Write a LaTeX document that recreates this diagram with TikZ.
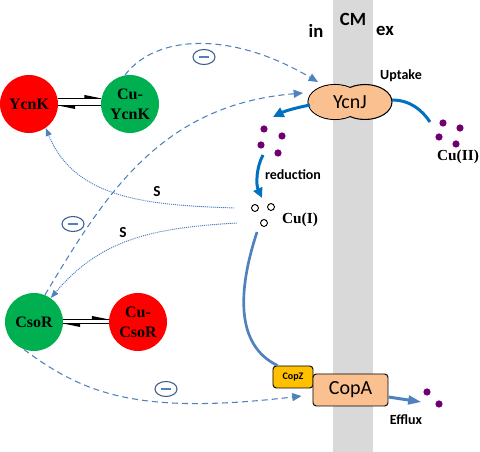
\documentclass[tikz,border=0pt]{standalone}
\usepackage{fontspec}
\setmainfont{Liberation Serif}
\newfontfamily\calfont{Carlito}
\usetikzlibrary{arrows.meta,shapes.geometric,calc}
\definecolor{memb}{HTML}{D9D9D9}
\definecolor{rred}{HTML}{FF0000}
\definecolor{ggreen}{HTML}{00B050}
\definecolor{peach}{HTML}{FAC090}
\definecolor{gold}{HTML}{FFC000}
\definecolor{sblue}{HTML}{4F81BD}
\definecolor{bblue}{HTML}{0070C0}
\definecolor{purp}{HTML}{700070}
\definecolor{minusc}{HTML}{3B5C8F}
\begin{document}
\begin{tikzpicture}[x=0.75pt,y=-0.75pt,
  prot/.style={circle,minimum size=43.5pt,inner sep=0pt,align=center,
    font=\bfseries\fontsize{12}{15}\selectfont},
  lbl/.style={font=\calfont\bfseries\fontsize{10.5}{12}\selectfont},
  big/.style={font=\calfont\bfseries\fontsize{14}{16}\selectfont},
  cutxt/.style={font=\bfseries\fontsize{11.5}{13}\selectfont},
  dashconn/.style={draw=sblue,line width=0.8pt,dash pattern=on 4.5pt off 3pt,
    -{Triangle[length=7pt,width=6pt]}},
  dotconn/.style={draw=sblue,line width=0.7pt,dash pattern=on 0.8pt off 0.7pt,
    -{Triangle[length=6pt,width=4.5pt]}},
  eqline/.style={line width=1.1pt},
  minus/.style={ellipse,draw=minusc,line width=0.8pt,minimum width=16.5pt,
    minimum height=11.25pt,inner sep=0pt},
  dot/.style={fill=purp},
  odot/.style={draw=black,line width=0.7pt,fill=white},
  boxst/.style={draw=black,line width=0.7pt,rounded corners=2.5pt,inner sep=0pt}
]
\useasboundingbox (0,0) rectangle (480,452);
% membrane
\fill[memb] (333,0) rectangle (373,452);
\node[big] (in) at (316,31) {in};
\node[big] (cm) at (353,19) {CM};
\node[big] (ex) at (385,31) {ex};

% YcnJ transporter
\draw[line width=0.8pt,fill=peach] (335,102) ellipse [x radius=20.25pt,y radius=13.125pt];
\draw[line width=0.8pt,fill=peach] (365,102) ellipse [x radius=20.25pt,y radius=13.125pt];
\fill[peach] (335,102) ellipse [x radius=19.85pt,y radius=12.725pt];
\node[minimum width=63pt,minimum height=26.25pt,inner sep=0pt,
  font=\calfont\fontsize{15}{18}\selectfont] (ycnj) at (350,102) {YcnJ};
\node[lbl] (uptake) at (401,76) {Uptake};

% proteins
\node[prot,fill=rred] (ycnk) at (29,104) {YcnK};
\node[prot,fill=ggreen] (cuycnk) at (130,104) {Cu-\\YcnK};
\node[prot,fill=ggreen] (csor) at (34,322) {CsoR};
\node[prot,fill=rred] (cucsor) at (138,322) {Cu-\\CsoR};

% equilibrium harpoons
\draw[eqline] (ycnk.11) -- (cuycnk.169);
\fill (cuycnk.169) -- ($(cuycnk.169)+(-17,-3.5)$) -- ($(cuycnk.169)+(-17,0)$) -- cycle;
\draw[eqline] (cuycnk.183) -- (ycnk.-3);
\fill (ycnk.-3) -- ($(ycnk.-3)+(17,3.5)$) -- ($(ycnk.-3)+(17,0)$) -- cycle;
\draw[eqline] (csor.5) -- (cucsor.175);
\fill (cucsor.175) -- ($(cucsor.175)+(-17,-3.5)$) -- ($(cucsor.175)+(-17,0)$) -- cycle;
\draw[eqline] (cucsor.183) -- (csor.-3);
\fill (csor.-3) -- ($(csor.-3)+(17,3.5)$) -- ($(csor.-3)+(17,0)$) -- cycle;

% copper dots
\node[inner sep=0pt,minimum width=15pt,minimum height=21pt] (cuin) at (271,141) {};
\foreach \p in {(264,129),(282,136),(261,145),(278,153)}
  \fill[dot] \p circle[radius=2.7pt];
\node[inner sep=0pt,minimum width=18pt,minimum height=18pt] (cuout) at (450,133) {};
\foreach \p in {(443,123),(460,128),(439,137),(456,144)}
  \fill[dot] \p circle[radius=2.7pt];
\node[cutxt] (cuii) at (458,157) {Cu(II)};
\node[inner sep=0pt,minimum width=18pt,minimum height=18pt] (cuidots) at (263,215) {};
\foreach \p in {(255,208),(271,207),(264,223)}
  \draw[odot] \p circle[radius=2.6pt];
\node[cutxt] (cui) at (300,220) {Cu(I)};

% uptake arrows
\draw[bblue,line width=2.25pt,-{Triangle[length=8pt,width=7.5pt]}]
  ($(ycnj.center)+(-40,3)$) .. controls (295,108) and (285,111) .. ($(cuin.center)+(2,-24)$);
\draw[bblue,line width=2.25pt]
  ($(ycnj.center)+(42,-2)$) .. controls (410,100) and (422,110) .. ($(cuout.center)+(-20,-11)$);
\draw[bblue,line width=2.25pt,-{Triangle[length=7.5pt,width=7pt]}]
  ($(cuin.center)+(-8,14)$) .. controls (256,168) and (256,185) .. ($(cuidots.center)+(-1,-17)$);
\node[lbl] (red) at (293,175) {reduction};

% CopZ / CopA
\node[boxst,fill=gold,minimum width=30pt,minimum height=16.5pt,
  font=\calfont\bfseries\fontsize{7.5}{9}\selectfont] (copz) at (293,377) {CopZ};
\node[boxst,fill=peach,minimum width=56.25pt,minimum height=24pt,
  font=\calfont\fontsize{15}{18}\selectfont] (copa) at (350.5,390) {CopA};
\draw[sblue,line width=2pt]
  ($(cuidots.center)+(-6,17)$) .. controls (238,290) and (235,345) .. ($(copz.north west)+(5,0)$);
\draw[sblue,line width=2.25pt,-{Triangle[length=10pt,width=6.5pt]}]
  ($(copa.east)+(0,7)$) -- ($(copa.east)+(33,12)$);
\node[lbl] (efflux) at (406,420) {Efflux};
\fill[dot] (427,392) circle[radius=2.7pt];
\fill[dot] (439,404) circle[radius=2.7pt];

% regulation (dashed)
\draw[dashconn] (cuycnk.100) .. controls (155,35) and (230,30) .. ($(ycnj.center)+(-32,-20)$);
\node[minus] (m1) at (204,57) {\textcolor{sblue}{\rule{7.5pt}{1.8pt}}};
\draw[dashconn] (csor.68) .. controls (105,195) and (160,105) .. ($(ycnj.center)+(-47,-9)$);
\node[minus] (m2) at (73,224) {\textcolor{sblue}{\rule{7.5pt}{1.8pt}}};
\draw[dashconn] (csor.-110) .. controls (85,395) and (140,415) .. ($(copa.west)+(-11,6)$);
\node[minus] (m3) at (166,389) {\textcolor{sblue}{\rule{7.5pt}{1.8pt}}};

% sensing (dotted)
\draw[dotconn] ($(cuidots.center)+(-29,-7)$) .. controls (150,205) and (75,200) .. (ycnk.-55);
\node[font=\calfont\bfseries\fontsize{11.5}{13}\selectfont] (s1) at (157,192) {S};
\draw[dotconn] ($(cuidots.center)+(-26,8)$) .. controls (150,228) and (100,240) .. (csor.55);
\node[font=\calfont\bfseries\fontsize{11.5}{13}\selectfont] (s2) at (123,233) {S};
\end{tikzpicture}
\end{document}
